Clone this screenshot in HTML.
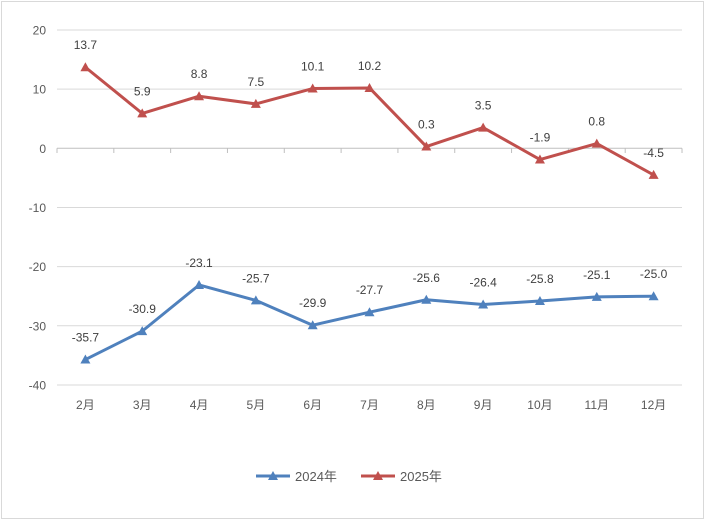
<!DOCTYPE html>
<html><head><meta charset="utf-8"><style>
html,body{margin:0;padding:0;background:#fff;}
svg{display:block;font-family:"Liberation Sans","Noto Sans CJK SC",sans-serif;}
</style></head><body>
<svg id="s" width="706" height="521" viewBox="0 0 706 521" xmlns="http://www.w3.org/2000/svg">
<rect x="1.5" y="1.5" width="702" height="517" fill="#fff" stroke="#d9d9d9"/>
</svg>
<script>
var s=document.getElementById('s'),h='';
function Y(v){return 148.3-5.917*v;}
function X(i){return 85.4+56.82*i;}
for(var v=20;v>=-40;v-=10){var y=Y(v);
 h+='<line x1="57" x2="682" y1="'+y+'" y2="'+y+'" stroke="'+(v==0?'#bfbfbf':'#d9d9d9')+'" stroke-width="1"/>';
 h+='<text x="46" y="'+(y+4.5)+'" text-anchor="end" font-size="12" fill="#595959">'+v+'</text>';}
for(var i=0;i<=11;i++){var x=57+56.82*i;h+='<line x1="'+x+'" x2="'+x+'" y1="148.3" y2="153" stroke="#bfbfbf"/>';}
for(var i=0;i<11;i++)h+='<text x="'+X(i)+'" y="409" text-anchor="middle" font-size="12" fill="#595959">'+(i+2)+'月</text>';
var a=[-35.7,-30.9,-23.1,-25.7,-29.9,-27.7,-25.6,-26.4,-25.8,-25.1,-25.0];
var b=[13.7,5.9,8.8,7.5,10.1,10.2,0.3,3.5,-1.9,0.8,-4.5];
function ser(d,c){var p=d.map(function(v,i){return X(i)+','+Y(v)}).join(' ');
 h+='<polyline points="'+p+'" fill="none" stroke="'+c+'" stroke-width="3" stroke-linejoin="round"/>';
 d.forEach(function(v,i){var x=X(i),y=Y(v);
  h+='<polygon points="'+(x-5)+','+(y+4)+' '+(x+5)+','+(y+4)+' '+x+','+(y-5)+'" fill="'+c+'"/>';
  h+='<text x="'+x+'" y="'+(y-18)+'" text-anchor="middle" font-size="12" fill="#404040">'+v.toFixed(1)+'</text>';});}
ser(a,'#4f81bd');ser(b,'#c0504d');
h+='<line x1="256" x2="290" y1="476" y2="476" stroke="#4f81bd" stroke-width="3"/><polygon points="268,480 278,480 273,471" fill="#4f81bd"/><text x="295" y="481" font-size="13" fill="#595959">2024年</text>';
h+='<line x1="361" x2="395" y1="476" y2="476" stroke="#c0504d" stroke-width="3"/><polygon points="373,480 383,480 378,471" fill="#c0504d"/><text x="400" y="481" font-size="13" fill="#595959">2025年</text>';
s.insertAdjacentHTML('beforeend',h);
</script>
</body></html>
